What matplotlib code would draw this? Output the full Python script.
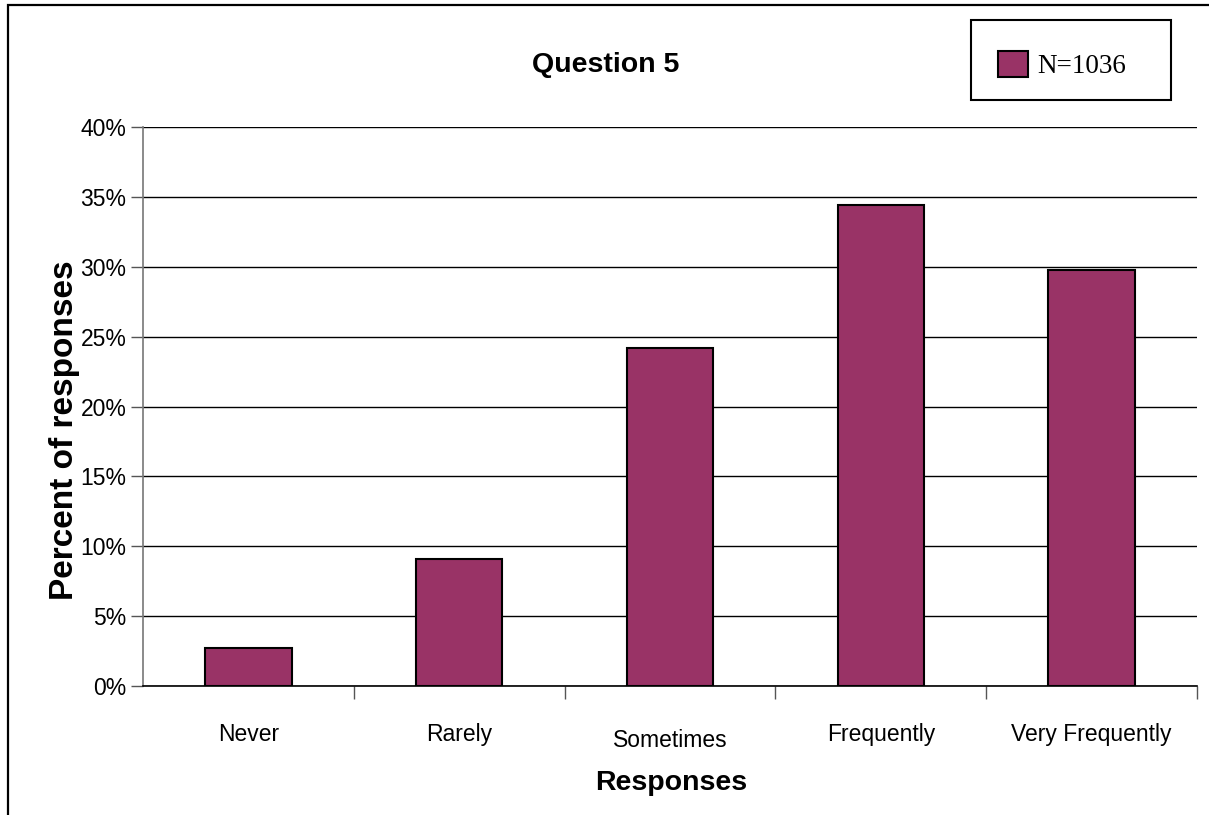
import matplotlib.pyplot as plt
from matplotlib.patches import Rectangle
from matplotlib.ticker import FuncFormatter

# Survey data (percent of responses)
categories = ['Never', 'Rarely', 'Sometimes', 'Frequently', 'Very Frequently']
percents = [2.7, 9.1, 24.2, 34.4, 29.8]
legend_label = 'N=1036'
bar_color = '#993366'

plt.rcParams['font.family'] = ['Liberation Sans', 'DejaVu Sans']

fig = plt.figure(figsize=(12.09, 8.15), dpi=100)
ax = fig.add_axes([143 / 1209, 1 - 686 / 815, (1197 - 143) / 1209, (686 - 127) / 815])

x = range(len(categories))
ax.bar(x, percents, width=0.41, color=bar_color, edgecolor='black', linewidth=1.5,
       zorder=3, label=legend_label)

ax.set_xlim(-0.5, len(categories) - 0.5)
ax.set_ylim(0, 40)
ax.set_yticks(range(0, 41, 5))
ax.yaxis.set_major_formatter(FuncFormatter(lambda v, p: f'{int(v)}%'))
ax.yaxis.grid(True, color='black', linewidth=1.0, zorder=0)

# category labels sit between the tick marks
ax.set_xticks([i + 0.5 for i in range(len(categories))])
ax.set_xticklabels([])
ax.set_xticks(list(x), minor=True)
ax.set_xticklabels(categories, minor=True, fontsize=16.5)
ax.tick_params(axis='x', which='minor', length=0, pad=26.5)
ax.tick_params(axis='x', which='major', length=9, width=1, color='#555555', direction='out')
ax.tick_params(axis='y', length=9, width=1, color='#555555', labelsize=16.5, pad=3)
# "Sometimes" sits a bit lower in the original
ax.get_xticklabels(minor=True)[2].set_y(-0.011)

for side in ['top', 'right']:
    ax.spines[side].set_visible(False)
ax.spines['left'].set_color('#777777')
ax.spines['left'].set_linewidth(1.2)
ax.spines['bottom'].set_color('black')
ax.spines['bottom'].set_linewidth(1.2)

ax.set_xlabel('Responses', fontsize=20.5, fontweight='bold')
ax.xaxis.set_label_coords(0.501, -0.150)
ax.set_ylabel('Percent of responses', fontsize=24, fontweight='bold')
ax.yaxis.set_label_coords(-0.060, 0.458)
fig.text(606 / 1209, 1 - 61.5 / 815, 'Question 5', fontsize=20.5, fontweight='bold',
         ha='center', va='center_baseline')

# legend box
fig.patches.append(Rectangle((971 / 1209, 1 - 100 / 815), 200 / 1209, 80 / 815,
                             transform=fig.transFigure, fill=False, edgecolor='black',
                             linewidth=1.5))
ax.legend(loc='center', bbox_to_anchor=(1062 / 1209, 1 - 65 / 815),
          bbox_transform=fig.transFigure, frameon=False, handlelength=1.1,
          handleheight=1.1, handletextpad=0.33,
          prop={'family': 'Liberation Serif', 'size': 19.5})

# outer chart border (cut off at right and bottom)
fig.patches.append(Rectangle((8 / 1209, -0.1), 1.2, (815 - 5) / 815 + 0.1,
                             transform=fig.transFigure, fill=False, edgecolor='black',
                             linewidth=1.6))

fig.savefig('out.png', dpi=100)
